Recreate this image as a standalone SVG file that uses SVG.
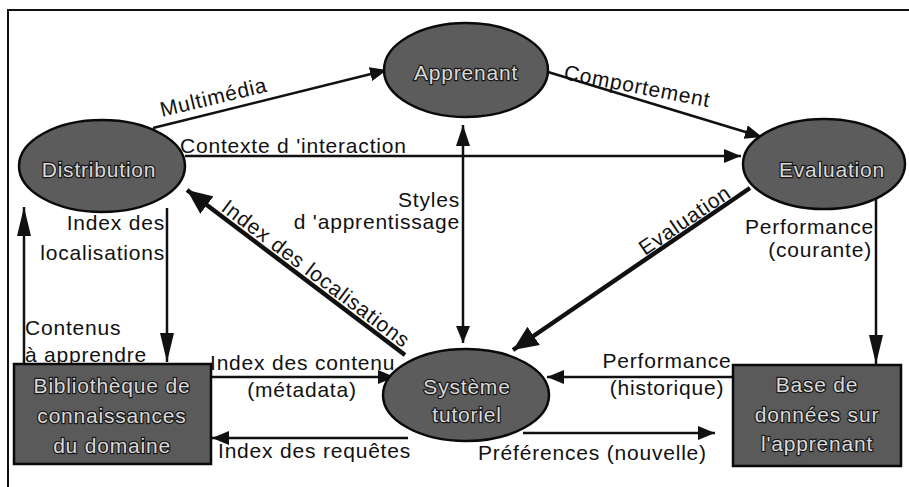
<svg xmlns="http://www.w3.org/2000/svg" width="909" height="487" viewBox="0 0 909 487">
  <style>
    .frame { fill: none; stroke: #111; stroke-width: 2; }
    .node { fill: #5c5c5c; stroke: #0a0a0a; stroke-width: 2.5; }
    .box { fill: #5a5a5a; stroke: #0a0a0a; stroke-width: 2.5; }
    .ntext { font-family: "Liberation Sans", Arial, sans-serif; font-size: 21px; letter-spacing: 0.8px; fill: #d9d9d9; stroke: #1a1a1a; stroke-width: 2.4; paint-order: stroke; text-anchor: middle; }
    .label { font-family: "Liberation Sans", Arial, sans-serif; font-size: 21px; letter-spacing: 0.8px; fill: #111; }
    .end { text-anchor: end; }
    .mid { text-anchor: middle; }
    .line { fill: none; stroke: #111; stroke-width: 2.5; }
    .thick { fill: none; stroke: #111; stroke-width: 4.5; }
    .arrow { fill: #111; }
  </style>
  <defs>
    <marker id="ah" markerUnits="userSpaceOnUse" markerWidth="18" markerHeight="14" refX="17" refY="7" orient="auto">
      <path class="arrow" d="M0,0 L17,7 L0,14 Z"/>
    </marker>
    <marker id="ahStart" markerUnits="userSpaceOnUse" markerWidth="22" markerHeight="14" refX="0" refY="7" orient="auto">
      <path class="arrow" d="M21,0 L0,7 L21,14 Z"/>
    </marker>
    <marker id="ahLong" markerUnits="userSpaceOnUse" markerWidth="30" markerHeight="16" refX="29" refY="8" orient="auto">
      <path class="arrow" d="M0,1 L29,8 L0,15 Z"/>
    </marker>
    <marker id="ahBig" markerUnits="userSpaceOnUse" markerWidth="26" markerHeight="22" refX="25" refY="11" orient="auto">
      <path class="arrow" d="M0,0 L25,11 L0,22 Z"/>
    </marker>
  </defs>

  <!-- page frame -->
  <path class="frame" d="M8,487 L8,10 L909,10"/>

  <!-- connectors -->
  <g id="connectors">
    <line class="line" x1="153" y1="128" x2="387" y2="70" marker-end="url(#ah)"/>
    <line class="line" x1="548" y1="72" x2="762" y2="137" marker-end="url(#ah)"/>
    <line class="line" x1="185" y1="156" x2="741" y2="156" marker-end="url(#ah)"/>
    <line class="line" x1="463" y1="125" x2="463" y2="343" marker-start="url(#ahStart)" marker-end="url(#ah)"/>
    <line class="thick" x1="405" y1="355" x2="187" y2="190" marker-end="url(#ahBig)"/>
    <line class="thick" x1="750" y1="188" x2="513" y2="350" marker-end="url(#ahBig)"/>
    <line class="line" x1="167" y1="208" x2="167" y2="362" marker-end="url(#ahLong)"/>
    <line class="line" x1="24" y1="364" x2="24" y2="207" marker-end="url(#ahLong)"/>
    <line class="line" x1="876" y1="199" x2="876" y2="364" marker-end="url(#ahLong)"/>
    <line class="line" x1="211" y1="377" x2="395" y2="377" marker-end="url(#ah)"/>
    <line class="line" x1="408" y1="438" x2="212" y2="438" marker-end="url(#ah)"/>
    <line class="line" x1="733" y1="377" x2="547" y2="377" marker-end="url(#ah)"/>
    <line class="line" x1="523" y1="433" x2="715" y2="433" marker-end="url(#ah)"/>

    <!-- connector labels -->
    <text class="label" x="162" y="117" transform="rotate(-13.5 162 117)">Multimédia</text>
    <text class="label" x="563" y="79" transform="rotate(11 563 79)">Comportement</text>
    <text class="label" x="180" y="153">Contexte d 'interaction</text>
    <text class="label end" x="460" y="207">Styles</text>
    <text class="label end" x="460" y="229">d 'apprentissage</text>
    <text class="label end" x="165" y="230">Index des</text>
    <text class="label end" x="165" y="260">localisations</text>
    <text class="label" x="25" y="335">Contenus</text>
    <text class="label" x="25" y="362">à apprendre</text>
    <text class="label" x="220" y="210" transform="rotate(37.1 220 210)">Index des localisations</text>
    <text class="label" x="645" y="256" transform="rotate(-34.4 645 256)">Evaluation</text>
    <text class="label end" x="874" y="234">Performance</text>
    <text class="label end" x="872" y="257">(courante)</text>
    <text class="label" x="210" y="370">Index des contenu</text>
    <text class="label mid" x="302" y="397">(métadata)</text>
    <text class="label" x="218" y="458">Index des requêtes</text>
    <text class="label mid" x="667" y="368">Performance</text>
    <text class="label mid" x="667" y="395">(historique)</text>
    <text class="label" x="478" y="460">Préférences (nouvelle)</text>
  </g>

  <!-- nodes -->
  <g id="apprenant">
    <ellipse class="node" cx="466" cy="70" rx="82" ry="47"/>
    <text class="ntext" x="466" y="80">Apprenant</text>
  </g>
  <g id="distribution">
    <ellipse class="node" cx="102" cy="166" rx="83" ry="46"/>
    <text class="ntext" x="99" y="177">Distribution</text>
  </g>
  <g id="evaluation">
    <ellipse class="node" cx="824" cy="164" rx="81" ry="45"/>
    <text class="ntext" x="832" y="177">Evaluation</text>
  </g>
  <g id="systeme-tutoriel">
    <ellipse class="node" cx="466" cy="395" rx="83" ry="46"/>
    <text class="ntext" x="467" y="394">Système</text>
    <text class="ntext" x="467" y="422">tutoriel</text>
  </g>
  <g id="bibliotheque">
    <rect class="box" x="14" y="364" width="197" height="100"/>
    <text class="ntext" x="112" y="393">Bibliothèque de</text>
    <text class="ntext" x="112" y="423">connaissances</text>
    <text class="ntext" x="112" y="453">du domaine</text>
  </g>
  <g id="base-apprenant">
    <rect class="box" x="733" y="365" width="168" height="101"/>
    <text class="ntext" x="817" y="392">Base de</text>
    <text class="ntext" x="817" y="422">données sur</text>
    <text class="ntext" x="817" y="451">l'apprenant</text>
  </g>
</svg>
